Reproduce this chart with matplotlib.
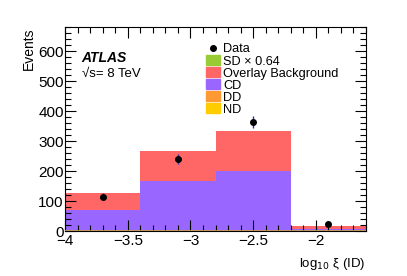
import numpy as np
import matplotlib.pyplot as plt
from matplotlib.ticker import MultipleLocator, FuncFormatter
from matplotlib.patches import Patch
from matplotlib.lines import Line2D

plt.rcParams['font.family'] = ['Liberation Sans', 'DejaVu Sans']

bin_edges = [-4.0, -3.4, -2.8, -2.2, -1.6]
nd = [0.5, 0.5, 0.5, 0.3]
dd = [0.5, 0.5, 0.5, 0.3]
cd = [68, 165, 198, 6]
overlay = [59, 101, 136, 9]
sd = [0, 0, 0, 0]
data_x = [-3.7, -3.1, -2.5, -1.9]
data_y = [115, 240, 363, 24]

colors = {
    'SD': '#99cc33',
    'Overlay': '#ff6666',
    'CD': '#9966ff',
    'DD': '#ff9933',
    'ND': '#ffcc00',
}

fig = plt.figure(figsize=(4.07, 2.76), dpi=100)
ax = fig.add_axes([0.160, 0.163, 0.739, 0.739])

left = np.array(bin_edges[:-1])
width = np.diff(bin_edges)
bottom = np.zeros(len(left))
for vals, key in [(nd, 'ND'), (dd, 'DD'), (cd, 'CD'), (overlay, 'Overlay'), (sd, 'SD')]:
    ax.bar(left, vals, width=width, bottom=bottom, align='edge',
           color=colors[key], linewidth=0)
    bottom += np.array(vals)

ax.axhline(0, color='#c8a040', lw=1.2, zorder=3)

ax.errorbar(data_x, data_y, yerr=np.sqrt(data_y), fmt='o', color='black',
            ecolor='#2233aa', elinewidth=1, markersize=4, capsize=0, zorder=5)

ax.set_xlim(-4, -1.6)
ax.set_ylim(0, 680)
ax.xaxis.set_major_locator(MultipleLocator(0.5))
ax.xaxis.set_minor_locator(MultipleLocator(0.1))
ax.xaxis.set_major_formatter(FuncFormatter(lambda v, p: f'{v:g}'.replace('-', '\u2212')))
ax.yaxis.set_major_locator(MultipleLocator(100))
ax.yaxis.set_minor_locator(MultipleLocator(20))
ax.tick_params(which='both', direction='in', top=True, right=True, labelsize=11, width=0.8)
ax.tick_params(which='major', length=8)
ax.tick_params(which='minor', length=4)
ax.tick_params(axis='x', pad=2)
ax.tick_params(axis='y', pad=1)
for s in ax.spines.values():
    s.set_linewidth(0.8)

ax.set_ylabel('Events', fontsize=10, loc='top', labelpad=2)
ax.set_xlabel(r'log$_{10}$ ξ (ID)', fontsize=9.5, loc='right', labelpad=6)

ax.text(0.055, 0.83, 'ATLAS', transform=ax.transAxes, fontsize=10,
        fontweight='bold', fontstyle='italic')
ax.text(0.055, 0.755, '√s= 8 TeV', transform=ax.transAxes, fontsize=9.5)

handles = [
    Line2D([], [], marker='o', color='black', markersize=4, linestyle='none'),
    Patch(color=colors['SD']),
    Patch(color=colors['Overlay']),
    Patch(color=colors['CD']),
    Patch(color=colors['DD']),
    Patch(color=colors['ND']),
]
labels = ['Data', 'SD × 0.64', 'Overlay Background', 'CD', 'DD', 'ND']
ax.legend(handles, labels, loc='upper left', bbox_to_anchor=(0.44, 0.965),
          frameon=False, fontsize=9.2, handlelength=1.1, handleheight=0.8,
          handletextpad=0.2, labelspacing=-0.02, borderpad=0.2)

fig.savefig('out.png', dpi=100)
